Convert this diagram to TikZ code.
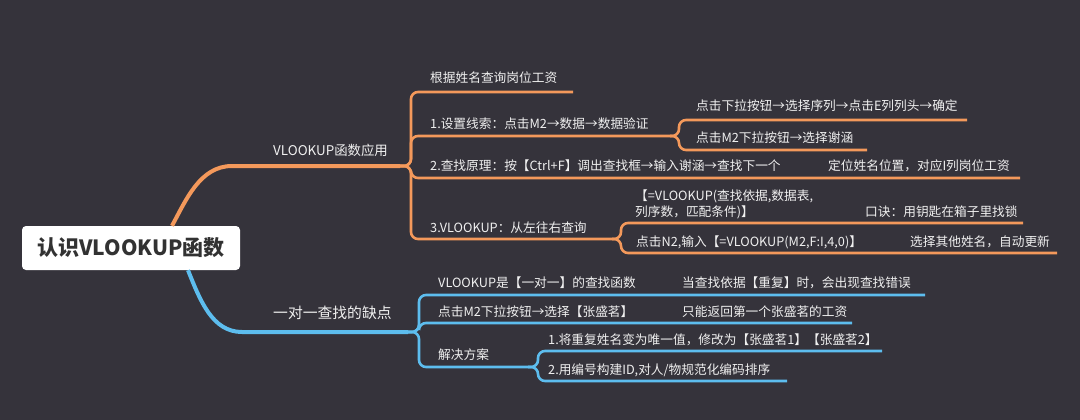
\documentclass[tikz,border=0pt]{standalone}
\usepackage{fontspec}
\setmainfont{Noto Sans CJK SC}
\definecolor{bgc}{RGB}{53,51,59}
\definecolor{orc}{RGB}{244,153,91}
\definecolor{blc}{RGB}{93,189,238}
\definecolor{fgc}{RGB}{240,240,240}
\definecolor{rootc}{RGB}{50,50,50}
\begin{document}
\begin{tikzpicture}[x=1pt,y=-1pt,
  txt/.style={anchor=west, inner sep=0pt, text=fgc, font=\fontsize{12.7}{16}\selectfont},
  lbl/.style={anchor=west, inner sep=0pt, text=fgc, font=\fontsize{13.4}{16}\selectfont},
  lblb/.style={anchor=west, inner sep=0pt, text=fgc, font=\fontsize{14.8}{17}\selectfont},
  root/.style={fill=white, rounded corners=4pt, minimum width=218pt, minimum height=44pt, inner sep=0pt, text=rootc, font=\fontsize{21}{24}\selectfont\bfseries},
  omain/.style={draw=orc, line width=4pt},
  bmain/.style={draw=blc, line width=4pt},
  obr/.style={draw=orc, line width=2.6pt, rounded corners=7pt},
  bbr/.style={draw=blc, line width=2.6pt, rounded corners=7pt}]
\fill[bgc] (0,0) rectangle (1080,420);
\useasboundingbox (0,0) rectangle (1080,420);

% root
\node[root] (root) at (131,248) {认识VLOOKUP函数};

% fan points and line coordinates
\coordinate (F1) at (400,166);
\coordinate (F2) at (670,136);
\coordinate (F4) at (612,239);
\coordinate (F5) at (408,332);
\coordinate (F6) at (528,367);

% main branches
\draw[omain] ([xshift=41pt]root.north) .. controls (186,200) and (200,166) .. (232,166) -- (F1);
\draw[bmain] ([xshift=57pt]root.south) .. controls (200,300) and (212,332) .. (242,332) -- (F5);

\node[lbl] (l1) at (273,150) {VLOOKUP函数应用};
\node[lblb] (l2) at (273,313) {一对一查找的缺点};

% orange children
\coordinate (o1c) at (411,92);  \coordinate (o1e) at (573,92);
\coordinate (o2c) at (411,136);
\coordinate (o3c) at (411,178); \coordinate (o3e) at (1020,178);
\coordinate (o4c) at (411,239);
\draw[obr] (F1) -| (o1c) -- (o1e);
\draw[obr] (F1) -| (o2c) -- (F2);
\draw[obr] (F1) -| (o3c) -- (o3e);
\draw[obr] (F1) -| (o4c) -- (F4);

\node[txt] (o1) at (430,78) {根据姓名查询岗位工资};
\node[txt] (o2) at (430,124) {1.设置线索：点击M2→数据→数据验证};
\node[txt] (o3) at (430,166) {2.查找原理：按【Ctrl+F】调出查找框→输入谢涵→查找下一个};
\node[txt] (o3b) at (828,166) {定位姓名位置，对应I列岗位工资};
\node[txt] (o4) at (430,228) {3.VLOOKUP：从左往右查询};

% orange sub-fan 2
\coordinate (o21c) at (679,120); \coordinate (o21e) at (967,120);
\coordinate (o22c) at (679,150); \coordinate (o22e) at (867,150);
\draw[obr] (F2) -| (o21c) -- (o21e);
\draw[obr] (F2) -| (o22c) -- (o22e);
\node[txt] (o21) at (696,106) {点击下拉按钮→选择序列→点击E列列头→确定};
\node[txt] (o22) at (696,138) {点击M2下拉按钮→选择谢涵};

% orange sub-fan 4
\coordinate (o41c) at (621,223); \coordinate (o41e) at (1023,223);
\coordinate (o42c) at (621,253); \coordinate (o42e) at (1057,253);
\draw[obr] (F4) -| (o41c) -- (o41e);
\draw[obr] (F4) -| (o42c) -- (o42e);
\node[txt, align=left] (o41) at (635,204) {【=VLOOKUP(查找依据,数据表,\\列序数，匹配条件)】};
\node[txt] (o41b) at (865,212) {口诀：用钥匙在箱子里找锁};
\node[txt] (o42) at (636,242) {点击N2,输入【=VLOOKUP(M2,F:I,4,0)】};
\node[txt] (o42b) at (910,242) {选择其他姓名，自动更新};

% blue children
\coordinate (b1c) at (419,295); \coordinate (b1e) at (925,295);
\coordinate (b2c) at (419,323); \coordinate (b2e) at (852,323);
\coordinate (b3c) at (419,367);
\draw[bbr] (F5) -| (b1c) -- (b1e);
\draw[bbr] (F5) -| (b2c) -- (b2e);
\draw[bbr] (F5) -| (b3c) -- (F6);
\node[txt] (b1) at (438,283) {VLOOKUP是【一对一】的查找函数};
\node[txt] (b1b) at (682,283) {当查找依据【重复】时，会出现查找错误};
\node[txt] (b2) at (438,312) {点击M2下拉按钮→选择【张盛茗】};
\node[txt] (b2b) at (682,312) {只能返回第一个张盛茗的工资};
\node[txt] (b3) at (438,355) {解决方案};

% blue sub-fan
\coordinate (b31c) at (538,351); \coordinate (b31e) at (882,351);
\coordinate (b32c) at (538,381); \coordinate (b32e) at (787,381);
\draw[bbr] (F6) -| (b31c) -- (b31e);
\draw[bbr] (F6) -| (b32c) -- (b32e);
\node[txt] (b31) at (548,340) {1.将重复姓名变为唯一值，修改为【张盛茗1】【张盛茗2】};
\node[txt] (b32) at (548,370) {2.用编号构建ID,对人/物规范化编码排序};
\end{tikzpicture}
\end{document}
